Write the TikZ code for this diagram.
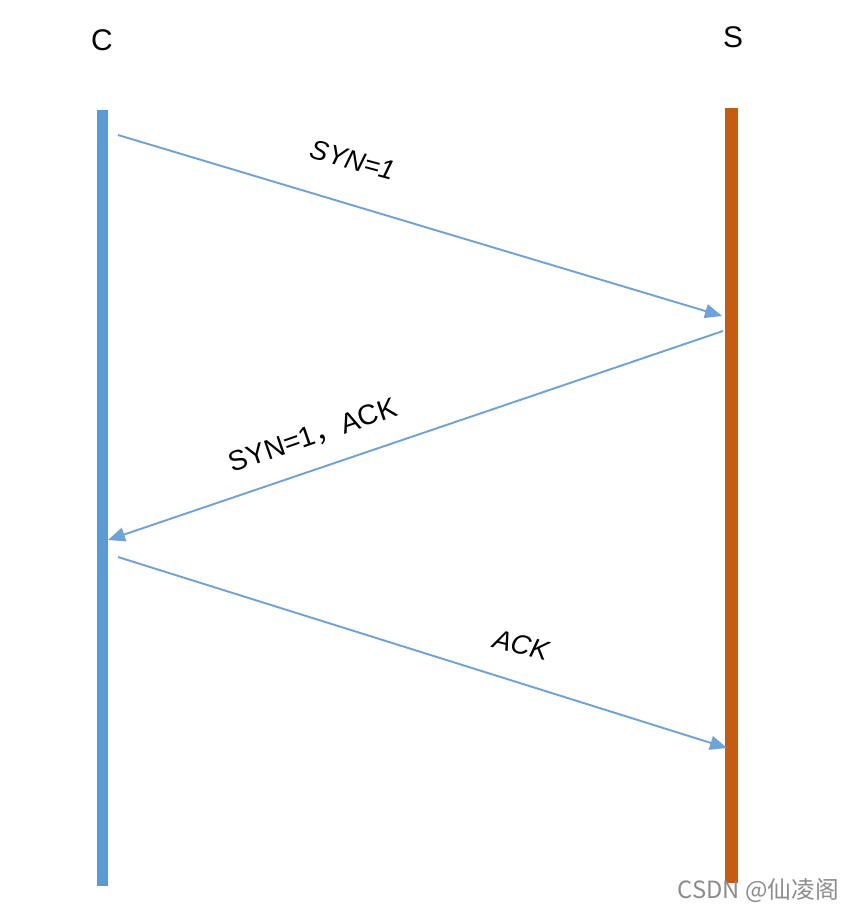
\documentclass[tikz,border=0pt]{standalone}
\usepackage{fontspec}
\setsansfont{Liberation Sans}
\newfontfamily\cjkfont{Noto Sans CJK SC}
\usepackage{xcolor}
\usetikzlibrary{positioning, arrows.meta, calc}
\definecolor{clientline}{HTML}{5b9bd5}
\definecolor{serverline}{HTML}{c55a11}
\definecolor{msgline}{HTML}{6fa3d8}

\begin{document}
\begin{tikzpicture}[x=0.02cm, y=-0.02cm,
 font=\sffamily,
 host/.style={font=\fontsize{17}{19}\selectfont\sffamily},
 msg/.style={-{Triangle[length=0.34cm,width=0.28cm]}, draw=msgline, line width=1.1pt},
 msglabel/.style={font=\fontsize{15.5}{18}\selectfont\sffamily\itshape, inner sep=1pt}]
\useasboundingbox (0,0) rectangle (857,909);

% hosts
\node[host](client) at (102,40){C};
\node[host](server) at (733,37){S};
\fill[clientline] (97,110) rectangle (108,886);
\fill[serverline] (725,108) rectangle (738,883);

% end points on the bars
\coordinate (c1) at (118,135);
\coordinate (s1) at (722,316);
\coordinate (s2) at (723,331);
\coordinate (c2) at (108,540);
\coordinate (c3) at (118,557);
\coordinate (s3) at (727,748);

\draw[msg](c1)--(s1);
\draw[msg](s2)--(c2);
\draw[msg](c3)--(s3);

\node[msglabel, rotate=-15](syn) at (353,160){SYN=1};
\node[msglabel, rotate=19, font=\fontsize{16}{18}\selectfont\sffamily](synack) at (313,436){SYN=1{\cjkfont ，}ACK};
\node[msglabel, rotate=-14](ack) at (521,645){ACK};

\node[text=black!45, font=\fontsize{13.5}{15}\selectfont\cjkfont, anchor=east](mark) at (845,890){CSDN @仙凌阁};
\end{tikzpicture}
\end{document}
